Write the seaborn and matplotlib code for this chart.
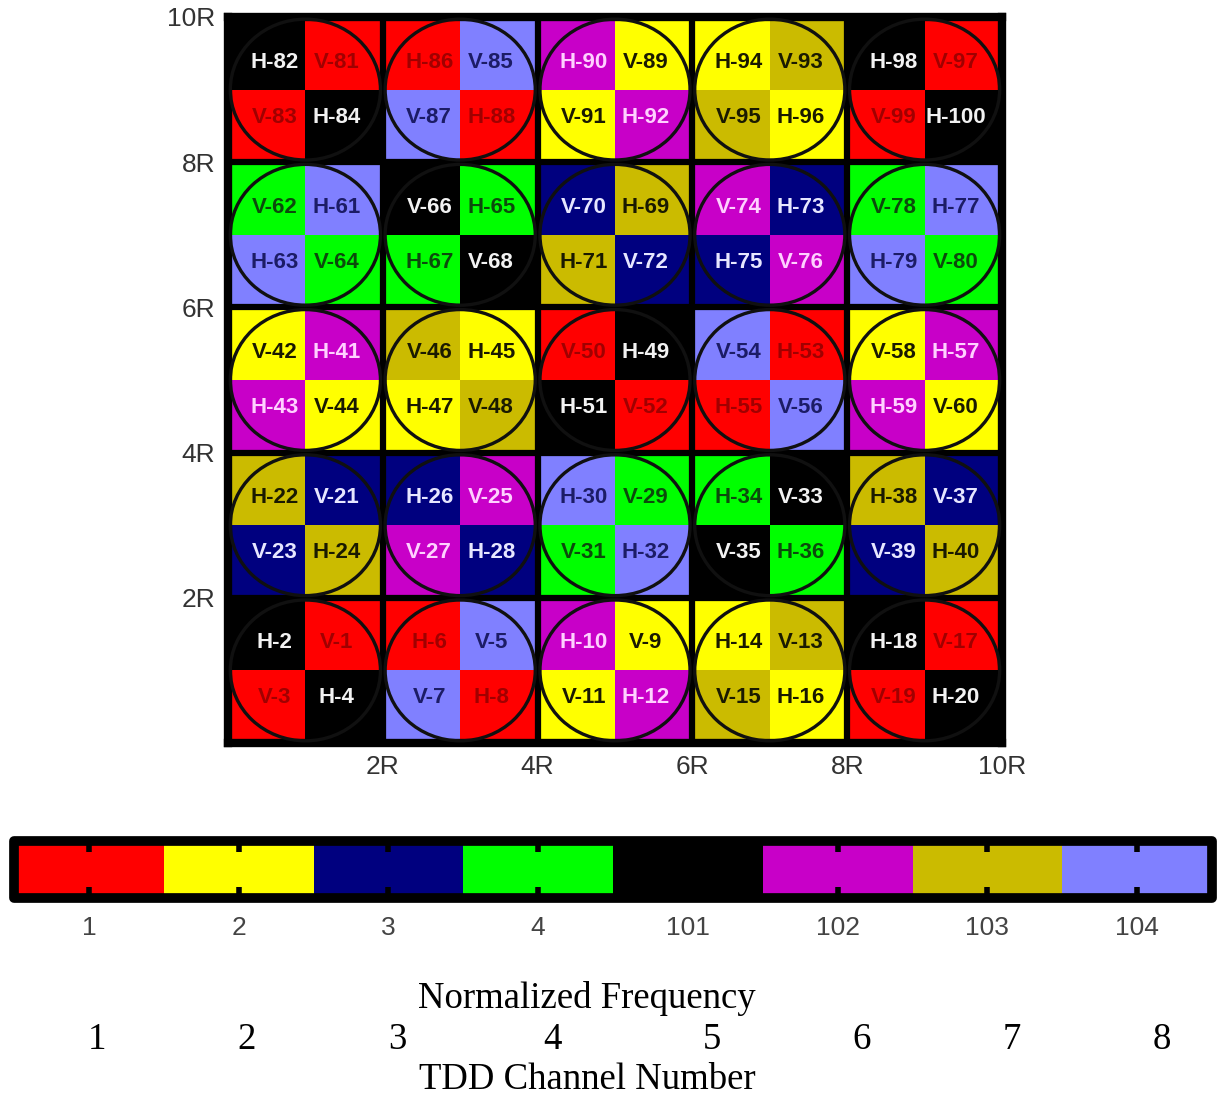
import numpy as np
import matplotlib
matplotlib.use("Agg")
import matplotlib.pyplot as plt
from matplotlib.colors import ListedColormap
from matplotlib.patches import Circle
import seaborn as sns

sns.set_theme(style="white")
plt.rcParams["font.family"] = ["Liberation Sans", "DejaVu Sans"]

# Channel codes shown on the colour bar and their fill / label colours
channel_codes = [1, 2, 3, 4, 101, 102, 103, 104]
channel_colors = ["#ff0000", "#ffff00", "#00007f", "#00ff00",
                  "#000000", "#c800c8", "#cbbb00", "#8080ff"]
label_colors = ["#a00000", "#1a1a00", "#e6e6ff", "#0c4a0c",
                "#f2f2f2", "#ffd0ff", "#1a1a00", "#1c1c66"]

# Channel assigned to each cell, top row first
cell_codes = [
    [101, 1, 1, 104, 102, 2, 2, 103, 101, 1],
    [1, 101, 104, 1, 2, 102, 103, 2, 1, 101],
    [4, 104, 101, 4, 3, 103, 102, 3, 4, 104],
    [104, 4, 4, 101, 103, 3, 3, 102, 104, 4],
    [2, 102, 103, 2, 1, 101, 104, 1, 2, 102],
    [102, 2, 2, 103, 101, 1, 1, 104, 102, 2],
    [103, 3, 3, 102, 104, 4, 4, 101, 103, 3],
    [3, 103, 102, 3, 4, 104, 101, 4, 3, 103],
    [101, 1, 1, 104, 102, 2, 2, 103, 101, 1],
    [1, 101, 104, 1, 2, 102, 103, 2, 1, 101],
]

# Antenna / polarisation label of each cell, top row first
cell_labels = [
    ["H-82", "V-81", "H-86", "V-85", "H-90", "V-89", "H-94", "V-93", "H-98", "V-97"],
    ["V-83", "H-84", "V-87", "H-88", "V-91", "H-92", "V-95", "H-96", "V-99", "H-100"],
    ["V-62", "H-61", "V-66", "H-65", "V-70", "H-69", "V-74", "H-73", "V-78", "H-77"],
    ["H-63", "V-64", "H-67", "V-68", "H-71", "V-72", "H-75", "V-76", "H-79", "V-80"],
    ["V-42", "H-41", "V-46", "H-45", "V-50", "H-49", "V-54", "H-53", "V-58", "H-57"],
    ["H-43", "V-44", "H-47", "V-48", "H-51", "V-52", "H-55", "V-56", "H-59", "V-60"],
    ["H-22", "V-21", "H-26", "V-25", "H-30", "V-29", "H-34", "V-33", "H-38", "V-37"],
    ["V-23", "H-24", "V-27", "H-28", "V-31", "H-32", "V-35", "H-36", "V-39", "H-40"],
    ["H-2", "V-1", "H-6", "V-5", "H-10", "V-9", "H-14", "V-13", "H-18", "V-17"],
    ["V-3", "H-4", "V-7", "H-8", "V-11", "H-12", "V-15", "H-16", "V-19", "H-20"],
]

x_tick_labels = ["2R", "4R", "6R", "8R", "10R"]
y_tick_labels = ["10R", "8R", "6R", "4R", "2R"]
bottom_numbers = ["1", "2", "3", "4", "5", "6", "7", "8"]

W, H = 1219, 1097
fig = plt.figure(figsize=(W / 100, H / 100), dpi=100)
ax = fig.add_axes([228 / W, 1 - 743 / H, 774 / W, 726 / H])
cax = fig.add_axes([14 / W, 1 - 898 / H, 1198 / W, 57 / H])

code_index = {c: k for k, c in enumerate(channel_codes)}
idx = np.array([[code_index[c] for c in row] for row in cell_codes])
n_rows, n_cols = idx.shape

sns.heatmap(idx, cmap=ListedColormap(channel_colors), vmin=-0.5, vmax=7.5,
            ax=ax, cbar_ax=cax, cbar_kws={"orientation": "horizontal"},
            linewidths=0, xticklabels=False, yticklabels=False)

# block separators (2x2 cell groups)
for k in range(2, n_cols, 2):
    ax.axvline(k, color="black", lw=4.5)
for k in range(2, n_rows, 2):
    ax.axhline(k, color="black", lw=4.5)

# one ring per 2x2 block
for by in range(0, n_rows, 2):
    for bx in range(0, n_cols, 2):
        ax.add_patch(Circle((bx + 1, by + 1), 0.97, fill=False,
                            ec="#101010", lw=2.4, zorder=4))

# cell labels, nudged toward the block centre
for i in range(n_rows):
    for j in range(n_cols):
        dx = 0.1 if j % 2 == 0 else -0.1
        dy = 0.12 if i % 2 == 0 else -0.12
        ax.text(j + 0.5 + dx, i + 0.5 + dy, cell_labels[i][j],
                ha="center", va="center", fontsize=16, fontweight="bold",
                color=label_colors[idx[i, j]], zorder=5)

for s in ax.spines.values():
    s.set_visible(True)
    s.set_linewidth(6)
    s.set_color("black")

ax.set_xticks(range(2, n_cols + 1, 2))
ax.set_xticklabels(x_tick_labels)
ax.set_yticks(range(0, n_rows, 2))
ax.set_yticklabels(y_tick_labels, rotation=0)
ax.tick_params(length=0, labelsize=19, labelcolor="#333333", pad=9)

cbar = ax.collections[0].colorbar
cbar.set_ticks(range(len(channel_codes)))
cbar.set_ticklabels([str(c) for c in channel_codes])
cbar.minorticks_off()
cbar.outline.set_linewidth(7)
cbar.outline.set_edgecolor("black")
cbar.outline.set_joinstyle("round")
cax.set_axisbelow(False)
cax.tick_params(axis="x", which="major", direction="in", top=True, bottom=True,
                length=8, width=4, color="black", labelsize=19,
                labelcolor="#444444", pad=13)

serif = ["Liberation Serif", "DejaVu Serif"]
fig.text(587 / W, 1 - 999 / H, "Normalized Frequency", ha="center", va="center",
         fontsize=26.5, family=serif, color="black")
num_x = [97, 247, 397, 553, 712, 862, 1012, 1162]
for xp, t in zip(num_x, bottom_numbers):
    fig.text(xp / W, 1 - 1040 / H, t, ha="center", va="center",
             fontsize=26.5, family=serif, color="black")
fig.text(587 / W, 1 - 1080 / H, "TDD Channel Number", ha="center", va="center",
         fontsize=26.5, family=serif, color="black")

fig.savefig("out.png", dpi=100, facecolor="white")
